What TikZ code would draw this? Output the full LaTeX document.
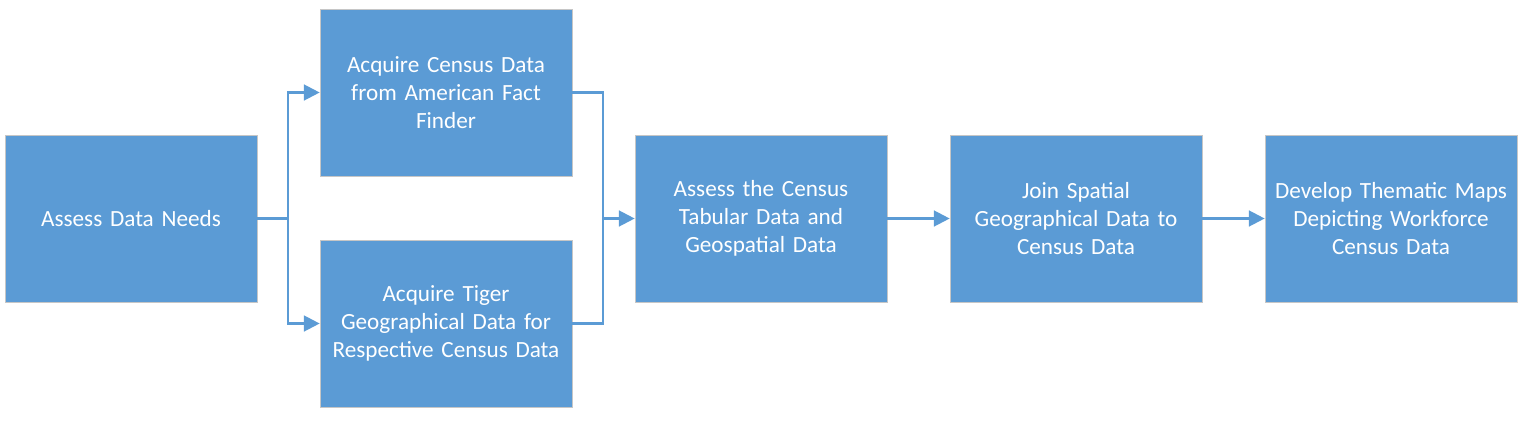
\documentclass[tikz,border=0pt]{standalone}
\usepackage{fontspec}
\setmainfont{Carlito}
\usepackage{tikz}
\usetikzlibrary{positioning,arrows.meta,calc}
\usepackage{xcolor}
\definecolor{boxblue}{HTML}{5B9BD5}
\definecolor{lineblue}{HTML}{5B9BD5}

\begin{document}
\begin{tikzpicture}[x=0.02cm, y=-0.02cm,
    stage/.style={rectangle, draw=gray!45, line width=0.4pt, fill=boxblue,
        minimum width=5.04cm, minimum height=3.34cm, text width=4.7cm,
        align=center, text=white, font=\fontsize{13.2}{16}\selectfont},
    flow/.style={line width=1.3pt, draw=lineblue,
        -{Triangle[length=9pt, width=9pt]}},
    joint/.style={line width=1.3pt, draw=lineblue}]
    \useasboundingbox (0,0) rectangle (1524,420);

    % Stages
    \node[stage] (needs) at (131, 218.5) {Assess Data Needs};
    \node[stage] (census) at (446, 92.5) {Acquire Census Data\\from American Fact\\Finder};
    \node[stage] (tiger) at (446, 323.5) {Acquire Tiger\\Geographical Data for\\Respective Census Data};
    \node[stage] (assess) at (761, 218.5) {Assess the Census\\Tabular Data and\\Geospatial Data};
    \node[stage] (join) at (1076, 218.5) {Join Spatial\\Geographical Data to\\Census Data};
    \node[stage] (maps) at (1391, 218.5) {Develop Thematic Maps\\Depicting Workforce\\Census Data};

    % Fork
    \coordinate (split) at (288, 218.5);
    \draw[joint] (needs.east) -- (split);
    \draw[flow] (split) |- (census.west);
    \draw[flow] (split) |- (tiger.west);

    % Merge
    \coordinate (merge) at (603, 218.5);
    \draw[joint] (census.east) -| (merge);
    \draw[joint] (tiger.east) -| (merge);
    \draw[flow] (merge) -- (assess.west);

    % Chain
    \draw[flow] (assess.east) -- (join.west);
    \draw[flow] (join.east) -- (maps.west);
\end{tikzpicture}
\end{document}
